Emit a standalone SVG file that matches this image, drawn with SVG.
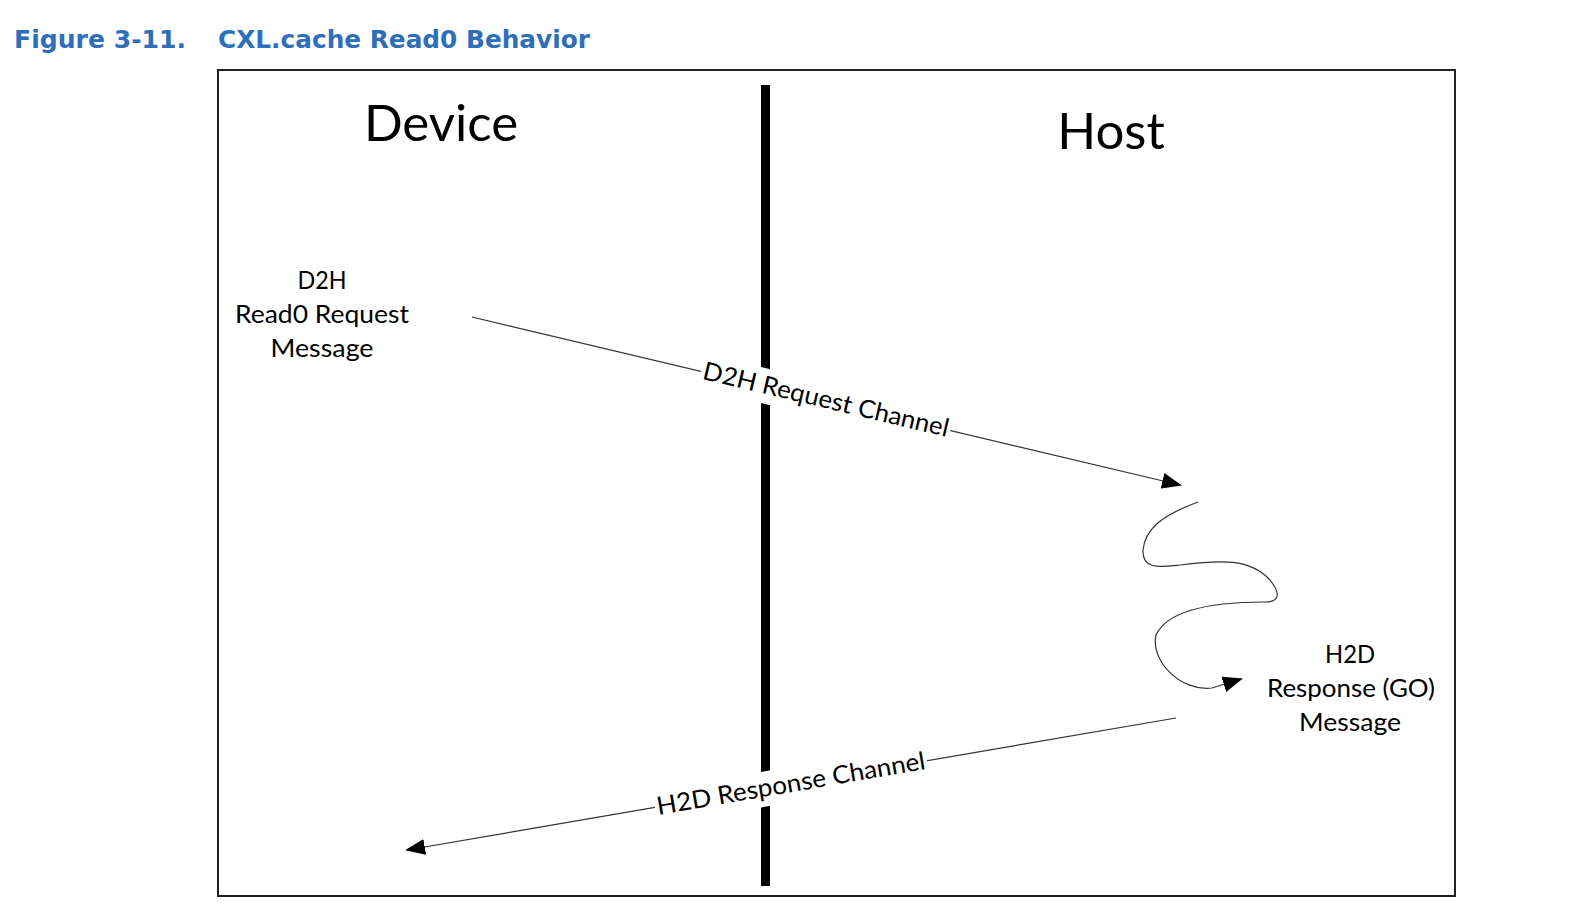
<svg xmlns="http://www.w3.org/2000/svg" width="1570" height="924" viewBox="0 0 1570 924">
  <style>
    .title { font-family: "DejaVu Sans", Verdana, sans-serif; font-weight: bold; font-size: 24px; fill: #2f6fba; }
    .big { font-family: Lato, "Open Sans", sans-serif; font-size: 51px; fill: #000; text-anchor: middle; }
    .lbl { font-family: Lato, "Open Sans", sans-serif; font-size: 25px; fill: #000; text-anchor: middle; }
    .conn { fill: none; stroke: #333; stroke-width: 1.2; }
  </style>
  <defs>
    <marker id="arrow" markerUnits="userSpaceOnUse" markerWidth="20" markerHeight="16" viewBox="0 0 20 16" refX="18" refY="8" orient="auto">
      <path d="M0,0 L20,8 L0,16 Z" fill="#000"/>
    </marker>
  </defs>
  <rect width="1570" height="924" fill="#fff"/>
  <g id="title">
    <text class="title" x="14" y="48" textLength="172" lengthAdjust="spacingAndGlyphs">Figure 3-11.</text>
    <text class="title" x="218" y="48" textLength="372" lengthAdjust="spacingAndGlyphs">CXL.cache Read0 Behavior</text>
  </g>
  <g id="frame">
    <rect x="218" y="70" width="1237" height="826" fill="none" stroke="#222" stroke-width="2"/>
  </g>
  <g id="divider">
    <rect x="761" y="85" width="9" height="801" fill="#000"/>
  </g>
  <g id="device">
    <text class="big" x="441" y="141">Device</text>
  </g>
  <g id="host">
    <text class="big" x="1111" y="149">Host</text>
  </g>
  <g id="d2h-request-message">
    <text class="lbl" x="322" y="289" textLength="49" lengthAdjust="spacingAndGlyphs">D2H</text>
    <text class="lbl" x="322" y="323" textLength="174" lengthAdjust="spacingAndGlyphs">Read0 Request</text>
    <text class="lbl" x="322" y="357" textLength="103" lengthAdjust="spacingAndGlyphs">Message</text>
  </g>
  <g id="h2d-response-message">
    <text class="lbl" x="1350" y="663" textLength="50" lengthAdjust="spacingAndGlyphs">H2D</text>
    <text class="lbl" x="1351" y="697" textLength="168" lengthAdjust="spacingAndGlyphs">Response (GO)</text>
    <text class="lbl" x="1350" y="731" textLength="102" lengthAdjust="spacingAndGlyphs">Message</text>
  </g>
  <g id="connectors">
    <line class="conn" x1="472" y1="317" x2="1180" y2="485" marker-end="url(#arrow)"/>
    <path class="conn" d="M1198,502 C1160,516 1145,530 1143,550 C1142,570 1160,567 1180,565 C1220,560 1250,558 1270,580 C1282,595 1278,602 1265,602 C1230,602 1170,605 1156,635 C1150,660 1180,692 1212,688 L1241,679" marker-end="url(#arrow)"/>
    <line class="conn" x1="1176" y1="718" x2="407" y2="850" marker-end="url(#arrow)"/>
    <g transform="translate(826,400) rotate(13.35)">
      <rect x="-128" y="-17" width="256" height="35" fill="#fff"/>
      <text class="lbl" x="0" y="8" textLength="252" lengthAdjust="spacingAndGlyphs">D2H Request Channel</text>
    </g>
    <g transform="translate(791,784) rotate(-9.74)">
      <rect x="-138" y="-17" width="276" height="35" fill="#fff"/>
      <text class="lbl" x="0" y="8" textLength="272" lengthAdjust="spacingAndGlyphs">H2D Response Channel</text>
    </g>
  </g>
</svg>
